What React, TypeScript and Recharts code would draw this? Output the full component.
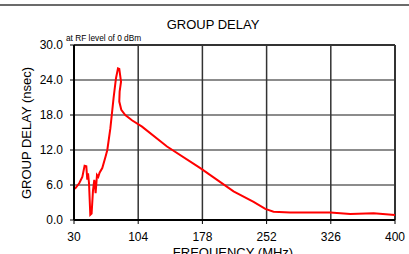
import { LineChart, Line, XAxis, YAxis, CartesianGrid, ReferenceLine } from 'recharts'

// (frequency, group delay)
const freqMHz = [
  30.3, 32, 36, 39.6, 42.2, 44.2, 45.3, 46.2, 47.3, 48.8, 50.3, 51.9, 53.4, 54.9, 56.5,
  58, 59.5, 62.6, 66.4, 68.4, 71.9, 75.6, 78.4, 80.7, 82.2, 84.2, 82.6, 82.2, 84.5,
  89.1, 96.8, 108.4, 137.2, 175.6, 213.9, 237, 250.5, 260, 279, 325.4, 348.5, 375.3, 400,
]
const delayNs = [
  5.3, 5.5, 6.3, 7.4, 9.3, 9.2, 6.9, 8.0, 6.3, 0.9, 1.1, 5.1, 6.9, 4.6, 7.7,
  7.4, 8.1, 8.9, 10.9, 12.0, 15.7, 20.9, 24.3, 26.0, 25.9, 23.7, 22.0, 20.3, 18.9,
  18.0, 17.1, 16.0, 12.6, 8.9, 4.9, 3.1, 1.9, 1.43, 1.3, 1.27, 1.03, 1.14, 0.86,
]
const xTicks = [30, 104, 178, 252, 326, 400]
const yTicks = [0, 6, 12, 18, 24, 30]

const data = freqMHz.map((f, i) => ({ f, d: delayNs[i] }))

const font = 'Arial, "Liberation Sans", sans-serif'

export default function App() {
  return (
    <div style={{ position: 'absolute', left: 0, top: 0, width: 409, height: 254, overflow: 'hidden', background: '#fff', fontFamily: font }}>
      <div style={{ position: 'absolute', left: 0, top: 4, width: 409, height: 2, background: '#6b6b6b' }} />
      <div style={{ position: 'absolute', left: 0, width: 409, top: 17, textAlign: 'center', fontSize: 13, paddingLeft: 17, boxSizing: 'border-box' }}>
        GROUP DELAY
      </div>
      <div style={{ position: 'absolute', left: 66, top: 33, fontSize: 8.3, whiteSpace: 'nowrap' }}>at RF level of 0 dBm</div>
      <div
        style={{
          position: 'absolute', left: 26, top: 133, fontSize: 13, whiteSpace: 'nowrap',
          transform: 'translate(-50%, -50%) rotate(-90deg)',
        }}
      >
        GROUP DELAY (nsec)
      </div>
      <div style={{ position: 'absolute', left: 233, top: 245, fontSize: 13, whiteSpace: 'nowrap', transform: 'translateX(-50%)' }}>
        FREQUENCY (MHz)
      </div>
      <LineChart width={409} height={254} data={data} margin={{ top: 45, right: 14, left: 0, bottom: 0 }}>
        <CartesianGrid vertical={false} stroke="#666" strokeWidth={1.5} />
        <CartesianGrid horizontal={false} stroke="#333" strokeWidth={1.5} />
        <ReferenceLine y={30} stroke="#333" strokeWidth={2} />
        <ReferenceLine x={400} stroke="#333" strokeWidth={2} />
        <XAxis
          type="number"
          dataKey="f"
          domain={[30, 400]}
          ticks={xTicks}
          height={34}
          tickSize={4}
          tickMargin={8}
          axisLine={{ stroke: '#000', strokeWidth: 2 }}
          tickLine={{ stroke: '#000' }}
          tick={{ fill: '#000', fontSize: 12, fontFamily: font }}
        />
        <YAxis
          type="number"
          domain={[0, 30]}
          ticks={yTicks}
          width={74}
          tickSize={4}
          tickMargin={7}
          tickFormatter={(v: number) => v.toFixed(1)}
          axisLine={{ stroke: '#000', strokeWidth: 2 }}
          tickLine={{ stroke: '#000' }}
          tick={{ fill: '#000', fontSize: 12, fontFamily: font }}
        />
        <Line type="linear" dataKey="d" stroke="#ff0000" strokeWidth={2} dot={false} isAnimationActive={false} />
      </LineChart>
    </div>
  )
}
